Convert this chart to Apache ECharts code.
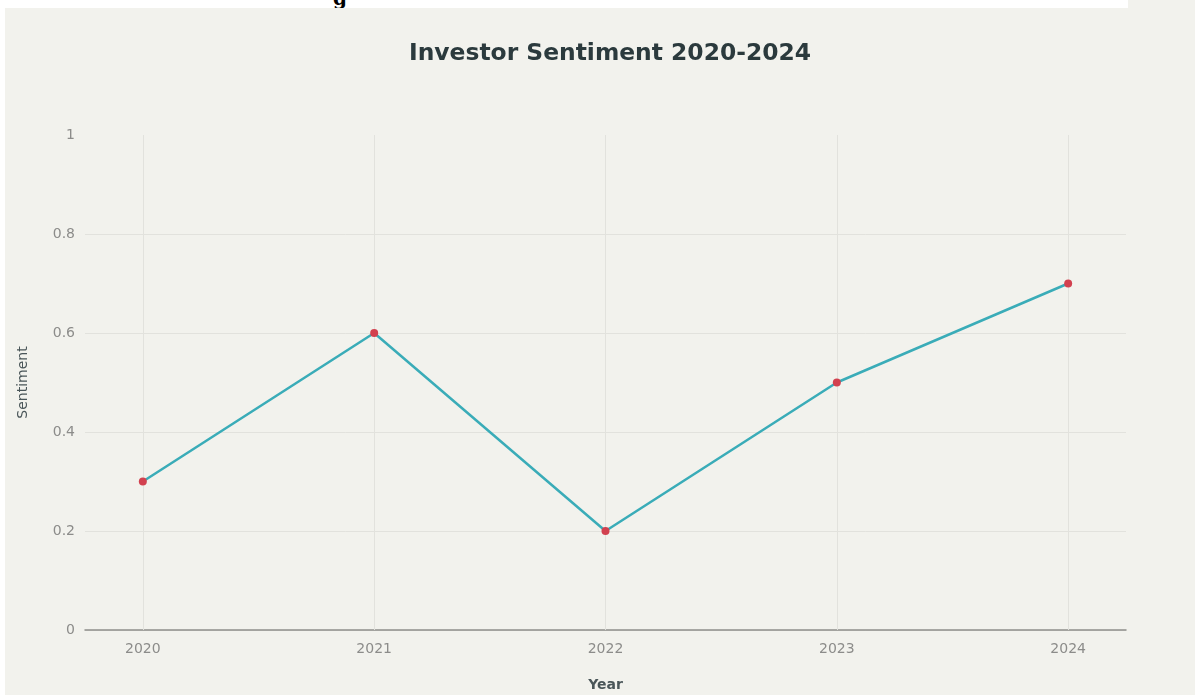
<!DOCTYPE html>
<html>
<head>
<meta charset="utf-8">
<script src="https://cdn.jsdelivr.net/npm/echarts@6/dist/echarts.min.js"></script>
<style>
  html, body { margin: 0; padding: 0; background: #ffffff; }
  #chart { position: absolute; left: 0; top: 0; width: 1195px; height: 695px; }
  #strip-top { position: absolute; left: 0; top: 0; width: 1128px; height: 8px; background: #ffffff; z-index: 2; overflow: hidden; }
  #strip-left { position: absolute; left: 0; top: 0; width: 5px; height: 695px; background: #ffffff; z-index: 2; }
  #frag { position: absolute; left: 333px; top: -14px; font: bold 20px "DejaVu Serif", serif; color: #000; }
</style>
</head>
<body>
<div id="chart"></div>
<div id="strip-top"><span id="frag">g</span></div>
<div id="strip-left"></div>
<script>
const years = [2020, 2021, 2022, 2023, 2024];
const sentiment = [0.3, 0.6, 0.2, 0.5, 0.7];
const yTicks = [0, 0.2, 0.4, 0.6, 0.8, 1];

const chart = echarts.init(document.getElementById('chart'), null, { renderer: 'canvas' });
const font = '"DejaVu Sans", sans-serif';
const gridColor = '#e2e2dd';

chart.setOption({
  backgroundColor: '#f2f2ed',
  animation: false,
  title: {
    text: 'Investor Sentiment 2020-2024',
    left: 404,
    top: 37,
    textStyle: { fontFamily: font, fontSize: 23.4, fontWeight: 'bold', color: '#2b3a3d' }
  },
  grid: { left: 85, right: 69, top: 135, bottom: 65, containLabel: false, outerBoundsMode: 'none' },
  xAxis: {
    type: 'value',
    min: 2019.75,
    max: 2024.25,
    name: 'Year',
    nameLocation: 'middle',
    nameGap: 48,
    nameTextStyle: { fontFamily: font, fontSize: 14, fontWeight: 'bold', color: '#4a5659' },
    axisLine: { show: true, lineStyle: { color: '#8e8e8a', width: 1.5 } },
    axisTick: { show: false },
    splitLine: { show: false },
    axisLabel: {
      customValues: years,
      margin: 12,
      fontFamily: font, fontSize: 14, color: '#8c8c8a',
      formatter: v => String(v)
    }
  },
  yAxis: {
    type: 'value',
    min: 0,
    max: 1,
    interval: 0.2,
    name: 'Sentiment',
    nameLocation: 'middle',
    nameGap: 55,
    nameTextStyle: { fontFamily: font, fontSize: 14, color: '#4a5659' },
    axisLine: { show: false },
    axisTick: { show: false },
    axisLabel: {
      margin: 10,
      fontFamily: font, fontSize: 14, color: '#8c8c8a',
      formatter: v => (yTicks.includes(Math.round(v * 10) / 10) ? String(Math.round(v * 10) / 10) : '')
    },
    splitLine: {
      show: true,
      lineStyle: { color: [gridColor, gridColor, gridColor, gridColor, gridColor, 'rgba(0,0,0,0)'], width: 1 }
    }
  },
  series: [{
    type: 'line',
    data: years.map((y, i) => [y, sentiment[i]]),
    symbol: 'circle',
    symbolSize: 8,
    lineStyle: { color: '#3aacb8', width: 2.5 },
    itemStyle: { color: '#d2414f' },
    z: 3,
    markLine: {
      silent: true,
      symbol: ['none', 'none'],
      label: { show: false },
      lineStyle: { color: gridColor, type: 'solid', width: 1 },
      data: years.map(y => ({ xAxis: y })),
      z: 1
    }
  }]
});
</script>
</body>
</html>
